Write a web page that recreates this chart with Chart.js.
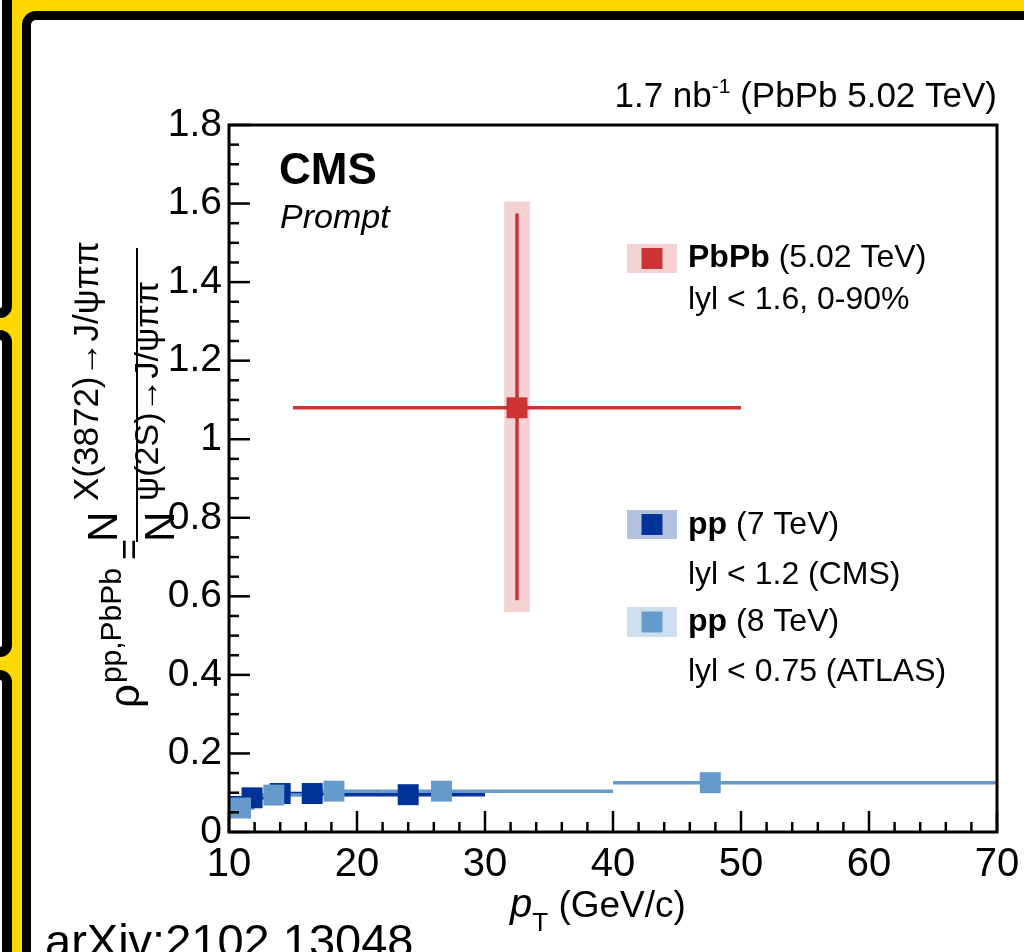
<!DOCTYPE html>
<html>
<head>
<meta charset="utf-8">
<script src="https://cdn.jsdelivr.net/npm/chart.js@4"></script>
<style>
  html, body { margin: 0; padding: 0; }
  body { width: 1024px; height: 952px; background: #ffd800; position: relative; overflow: hidden; }
  .side { position: absolute; left: -60px; width: 72px; box-sizing: border-box; background: #fff; border: 10px solid #000; border-radius: 12px; }
  .main { position: absolute; left: 22px; top: 11px; width: 1200px; height: 1200px; box-sizing: border-box; background: #fff; border: 9px solid #000; border-radius: 14px; }
  #chart { position: absolute; left: 0; top: 0; }
</style>
</head>
<body>
<div class="side" style="top:-60px;height:378px"></div>
<div class="side" style="top:330px;height:327px"></div>
<div class="side" style="top:670px;height:400px"></div>
<div class="main"></div>
<canvas id="chart" width="1024" height="952"></canvas>
<script>
// ── Data (arXiv:2102.13048) ─────────────────────────────────────────────────

const X_TICKS = [10, 20, 30, 40, 50, 60, 70];
const X_TICK_LABELS = ['10', '20', '30', '40', '50', '60', '70'];
const Y_TICKS = [0, 0.2, 0.4, 0.6, 0.8, 1.0, 1.2, 1.4, 1.6, 1.8];
const Y_TICK_LABELS = ['0', '0.2', '0.4', '0.6', '0.8', '1', '1.2', '1.4', '1.6', '1.8'];

// PbPb 5.02 TeV, |y| < 1.6, 0-90%
const PBPB_PT = [32.5];
const PBPB_RHO = [1.08];
const PBPB_PT_LO = [15];
const PBPB_PT_HI = [50];
const PBPB_STAT_LO = [0.59];
const PBPB_STAT_HI = [1.575];
const PBPB_SYST_LO = [0.56];
const PBPB_SYST_HI = [1.605];

// pp 7 TeV, |y| < 1.2 (CMS)
const CMS7_PT = [11.8, 14.0, 16.5, 24.0];
const CMS7_RHO = [0.087, 0.098, 0.098, 0.095];
const CMS7_PT_LO = [10, 13.5, 15, 18];
const CMS7_PT_HI = [13.5, 15, 18, 30];
const CMS7_STAT = [0.012, 0.008, 0.008, 0.010];
const CMS7_SYST = [0.020, 0.018, 0.018, 0.018];

// pp 8 TeV, |y| < 0.75 (ATLAS)
const ATLAS8_PT = [10.9, 13.5, 18.2, 26.6, 47.6];
const ATLAS8_RHO = [0.061, 0.094, 0.104, 0.104, 0.1255];
const ATLAS8_PT_LO = [10, 12, 16, 22, 40];
const ATLAS8_PT_HI = [12, 16, 22, 40, 70];
const ATLAS8_STAT = [0.010, 0.008, 0.006, 0.006, 0.008];
const ATLAS8_SYST = [0.020, 0.018, 0.016, 0.016, 0.018];

// ── Styles ──────────────────────────────────────────────────────────────────

const RED = '#cc3333', RED_FILL = 'rgba(204,51,51,0.22)';
const DARK = '#003399', DARK_FILL = 'rgba(0,51,153,0.30)';
const LIGHT = '#6699cc', LIGHT_FILL = 'rgba(102,153,204,0.32)';
const MARKER_R = 14.8;           // rect side = 2*SQRT1_2*r ≈ 21px
const FONT = '"Liberation Sans", Arial, sans-serif';

// series built from the arrays above (bounds in data units)
const SERIES = [
  {
    pt: CMS7_PT, rho: CMS7_RHO, lo: CMS7_PT_LO, hi: CMS7_PT_HI,
    stat: CMS7_RHO.map((v, i) => [v - CMS7_STAT[i], v + CMS7_STAT[i]]),
    syst: CMS7_RHO.map((v, i) => [v - CMS7_SYST[i], v + CMS7_SYST[i]]),
    box_half: 0.8, color: DARK, fill: DARK_FILL,
  },
  {
    pt: ATLAS8_PT, rho: ATLAS8_RHO, lo: ATLAS8_PT_LO, hi: ATLAS8_PT_HI,
    stat: ATLAS8_RHO.map((v, i) => [v - ATLAS8_STAT[i], v + ATLAS8_STAT[i]]),
    syst: ATLAS8_RHO.map((v, i) => [v - ATLAS8_SYST[i], v + ATLAS8_SYST[i]]),
    box_half: 0.8, color: LIGHT, fill: LIGHT_FILL,
  },
  {
    pt: PBPB_PT, rho: PBPB_RHO, lo: PBPB_PT_LO, hi: PBPB_PT_HI,
    stat: PBPB_RHO.map((v, i) => [PBPB_STAT_LO[i], PBPB_STAT_HI[i]]),
    syst: PBPB_RHO.map((v, i) => [PBPB_SYST_LO[i], PBPB_SYST_HI[i]]),
    box_half: 1.0, color: RED, fill: RED_FILL,
  },
];

// ── Helpers ─────────────────────────────────────────────────────────────────

function line(ctx, x1, y1, x2, y2) {
  ctx.beginPath(); ctx.moveTo(x1, y1); ctx.lineTo(x2, y2); ctx.stroke();
}

// runs: [text, font, dy]; drawn left to right from x
function draw_runs(ctx, runs, x, y) {
  runs.forEach(([t, f, dy]) => {
    ctx.font = f;
    ctx.fillText(t, x, y + (dy || 0));
    x += ctx.measureText(t).width;
  });
  return x;
}

function runs_width(ctx, runs) {
  return runs.reduce((w, [t, f]) => { ctx.font = f; return w + ctx.measureText(t).width; }, 0);
}

// rotated text reading bottom-to-top, baseline at pixel x = bx, starting at pixel y = by
function rot_text(ctx, text, font, bx, by) {
  ctx.save();
  ctx.translate(bx, by);
  ctx.rotate(-Math.PI / 2);
  ctx.font = font;
  ctx.fillText(text, 0, 0);
  const w = ctx.measureText(text).width;
  ctx.restore();
  return w;
}

function marker(ctx, cx, cy, color) {
  const s = 2 * Math.SQRT1_2 * MARKER_R;
  ctx.fillStyle = color;
  ctx.fillRect(cx - s / 2, cy - s / 2, s, s);
}

// ── Plugin: error bars, syst boxes, frame, inside ticks, texts, legend ─────

const root_style = {
  id: 'root_style',
  beforeDatasetsDraw(chart) {
    const ctx = chart.ctx, xs = chart.scales.x, ys = chart.scales.y;
    ctx.save();
    SERIES.forEach(s => {
      ctx.fillStyle = s.fill;
      s.pt.forEach((x, i) => {
        const x1 = xs.getPixelForValue(x - s.box_half), x2 = xs.getPixelForValue(x + s.box_half);
        const y1 = ys.getPixelForValue(s.syst[i][1]), y2 = ys.getPixelForValue(s.syst[i][0]);
        ctx.fillRect(x1, y1, x2 - x1, y2 - y1);
      });
    });
    SERIES.forEach(s => {
      ctx.strokeStyle = s.color;
      ctx.lineWidth = 3.5;
      s.pt.forEach((x, i) => {
        const py = ys.getPixelForValue(s.rho[i]);
        line(ctx, xs.getPixelForValue(s.lo[i]), py, xs.getPixelForValue(s.hi[i]), py);
        const px = xs.getPixelForValue(x);
        line(ctx, px, ys.getPixelForValue(s.stat[i][0]), px, ys.getPixelForValue(s.stat[i][1]));
      });
    });
    ctx.restore();
  },
  afterDraw(chart) {
    const ctx = chart.ctx, xs = chart.scales.x, ys = chart.scales.y, a = chart.chartArea;
    ctx.save();
    ctx.fillStyle = '#000';
    ctx.strokeStyle = '#000';

    // frame
    ctx.lineWidth = 3;
    ctx.strokeRect(a.left, a.top, a.right - a.left, a.bottom - a.top);

    // inside ticks
    ctx.lineWidth = 2.5;
    for (let i = 0; i <= 30; i++) {
      const px = xs.getPixelForValue(10 + 2 * i);
      line(ctx, px, a.bottom, px, a.bottom - (i % 5 === 0 ? 21 : 10));
    }
    for (let i = 0; i <= 36; i++) {
      const py = ys.getPixelForValue(0.05 * i);
      line(ctx, a.left, py, a.left + (i % 4 === 0 ? 21 : 10), py);
    }

    ctx.textBaseline = 'alphabetic';
    ctx.textAlign = 'left';

    // header
    const head = [['1.7 nb', '35px ' + FONT], ['-1', '21px ' + FONT, -14], [' (PbPb 5.02 TeV)', '35px ' + FONT]];
    draw_runs(ctx, head, 997 - runs_width(ctx, head), 107);

    ctx.font = 'bold 44px ' + FONT;
    ctx.fillText('CMS', 279, 184);
    ctx.font = 'italic 34px ' + FONT;
    ctx.fillText('Prompt', 280, 228);

    // legend
    const legend = [
      { top: 244, bottom: 273, color: RED, fill: RED_FILL, name: 'PbPb', extra: ' (5.02 TeV)', note: 'lyl < 1.6, 0-90%', base: 267, note_base: 309 },
      { top: 510, bottom: 539, color: DARK, fill: DARK_FILL, name: 'pp', extra: ' (7 TeV)', note: 'lyl < 1.2 (CMS)', base: 534, note_base: 584 },
      { top: 607, bottom: 637, color: LIGHT, fill: LIGHT_FILL, name: 'pp', extra: ' (8 TeV)', note: 'lyl < 0.75 (ATLAS)', base: 631, note_base: 681 },
    ];
    legend.forEach(e => {
      ctx.fillStyle = e.fill;
      ctx.fillRect(627, e.top, 50, e.bottom - e.top);
      marker(ctx, 652, (e.top + e.bottom) / 2, e.color);
      ctx.fillStyle = '#000';
      draw_runs(ctx, [[e.name, 'bold 32px ' + FONT], [e.extra, '32px ' + FONT]], 688, e.base);
      ctx.font = '32px ' + FONT;
      ctx.fillText(e.note, 688, e.note_base);
    });

    // x title
    draw_runs(ctx, [['p', 'italic 40px ' + FONT], ['T', '26px ' + FONT, 14], [' (GeV/c)', '37px ' + FONT]], 510, 917);

    // y title: rho^{pp,PbPb} = N^{X(3872)->J/psi pi pi} / N^{psi(2S)->J/psi pi pi}
    const rw = rot_text(ctx, 'ρ', '42px ' + FONT, 139, 708);
    rot_text(ctx, 'pp,PbPb', '30px ' + FONT, 121, 708 - rw - 1);
    rot_text(ctx, '=', '36px ' + FONT, 141, 560);
    rot_text(ctx, 'N', '42px ' + FONT, 117, 542);
    rot_text(ctx, 'X(3872)\u2192J/\u03c8\u03c0\u03c0', '35px ' + FONT, 98, 501);
    ctx.lineWidth = 2;
    line(ctx, 137, 542, 137, 248);
    rot_text(ctx, 'N', '42px ' + FONT, 174, 542);
    rot_text(ctx, '\u03c8(2S)\u2192J/\u03c8\u03c0\u03c0', '34px ' + FONT, 158, 501);

    // footer
    ctx.font = '47px ' + FONT;
    ctx.fillText('arXiv:2102.13048', 45, 957);
    ctx.restore();
  },
};

// ── Chart ───────────────────────────────────────────────────────────────────

function scatter_set(pt, rho, color) {
  return {
    data: pt.map((x, i) => ({ x, y: rho[i] })),
    pointStyle: 'rect',
    pointRadius: MARKER_R,
    pointHoverRadius: MARKER_R,
    backgroundColor: color,
    borderColor: color,
    borderWidth: 0,
    showLine: false,
  };
}

Chart.defaults.font.family = FONT;
Chart.defaults.color = '#000';

new Chart(document.getElementById('chart'), {
  type: 'scatter',
  data: {
    // first dataset is drawn on top
    datasets: [
      scatter_set(PBPB_PT, PBPB_RHO, RED),
      scatter_set(ATLAS8_PT, ATLAS8_RHO, LIGHT),
      scatter_set(CMS7_PT, CMS7_RHO, DARK),
    ],
  },
  options: {
    responsive: false,
    animation: false,
    events: [],
    clip: false,
    layout: { padding: { top: 125, right: 27, left: 0, bottom: 0 } },
    plugins: { legend: { display: false }, tooltip: { enabled: false } },
    scales: {
      x: {
        type: 'linear', min: 10, max: 70,
        afterBuildTicks: s => { s.ticks = X_TICKS.map(v => ({ value: v })); },
        afterFit: s => { s.height = 120; s.paddingLeft = 0; s.paddingRight = 0; },
        ticks: {
          callback: (v) => X_TICK_LABELS[X_TICKS.indexOf(v)],
          font: { size: 40 }, padding: 9, maxRotation: 0, autoSkip: false,
        },
        grid: { display: false, drawTicks: false },
        border: { display: false },
      },
      y: {
        type: 'linear', min: 0, max: 1.8,
        afterBuildTicks: s => { s.ticks = Y_TICKS.map(v => ({ value: v })); },
        afterFit: s => { s.width = 229; s.paddingTop = 0; s.paddingBottom = 0; },
        ticks: {
          callback: (v) => Y_TICK_LABELS[Y_TICKS.findIndex(t => Math.abs(t - v) < 1e-6)],
          font: { size: 39 }, padding: 7, autoSkip: false,
        },
        grid: { display: false, drawTicks: false },
        border: { display: false },
      },
    },
  },
  plugins: [root_style],
});
</script>
</body>
</html>
